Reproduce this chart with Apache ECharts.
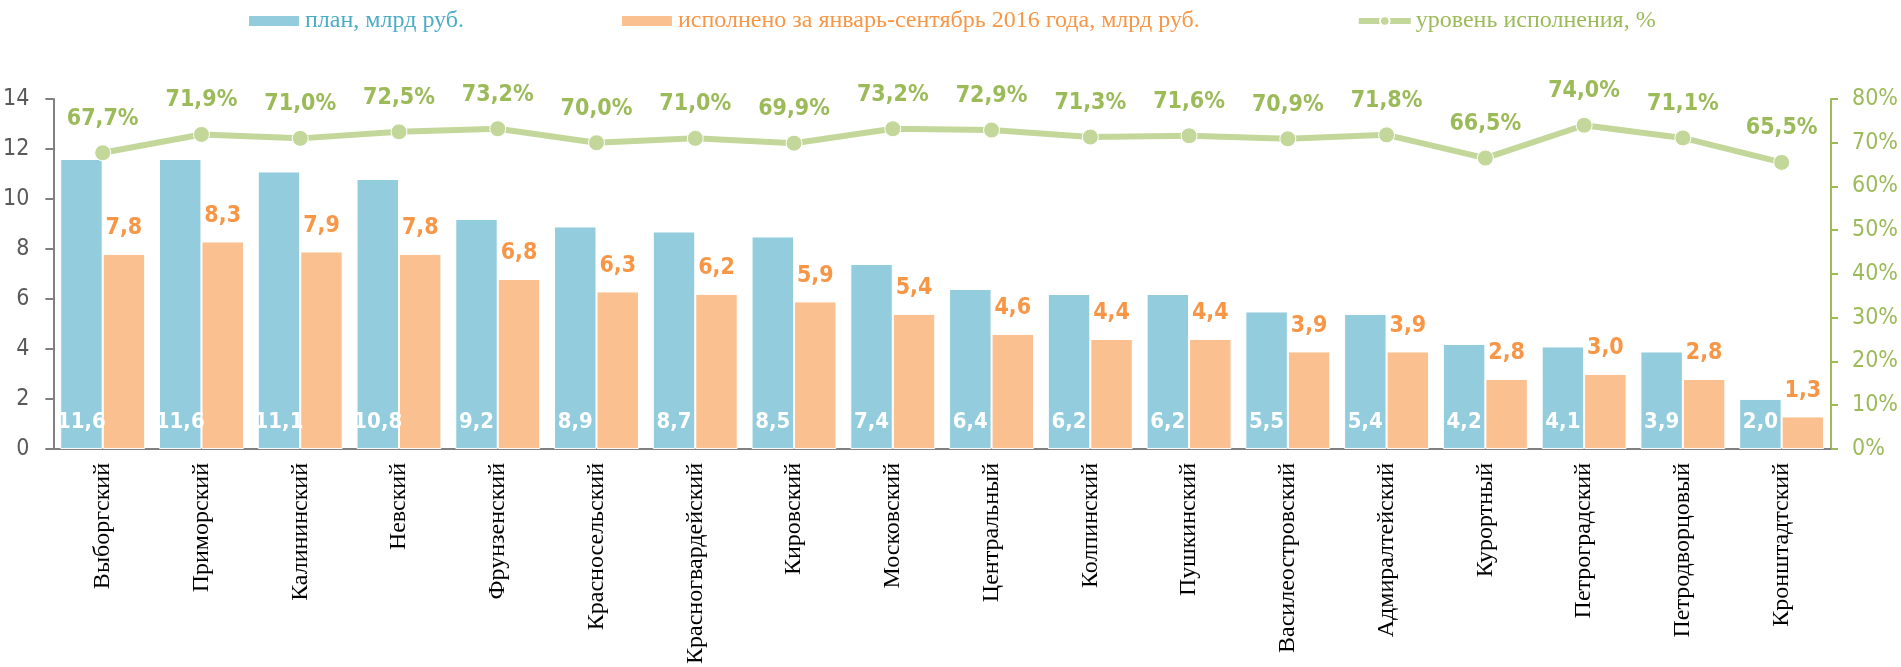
<!DOCTYPE html>
<html>
<head>
<meta charset="utf-8">
<script src="https://cdn.jsdelivr.net/npm/echarts@6/dist/echarts.min.js"></script>
<style>
  html, body { margin: 0; padding: 0; background: #fff; }
  #chart { width: 1901px; height: 667px; }
</style>
</head>
<body>
<div id="chart"></div>
<script>
// районы
var districts = ['Выборгский', 'Приморский', 'Калининский', 'Невский', 'Фрунзенский',
  'Красносельский', 'Красногвардейский', 'Кировский', 'Московский', 'Центральный',
  'Колпинский', 'Пушкинский', 'Василеостровский', 'Адмиралтейский', 'Курортный',
  'Петроградский', 'Петродворцовый', 'Кронштадтский'];
// план, млрд руб.
var plan = [11.6, 11.6, 11.1, 10.8, 9.2, 8.9, 8.7, 8.5, 7.4, 6.4, 6.2, 6.2, 5.5, 5.4, 4.2, 4.1, 3.9, 2.0];
// исполнено за январь-сентябрь 2016 года
var done = [7.8, 8.3, 7.9, 7.8, 6.8, 6.3, 6.2, 5.9, 5.4, 4.6, 4.4, 4.4, 3.9, 3.9, 2.8, 3.0, 2.8, 1.3];
// уровень исполнения, %
var level = [67.7, 71.9, 71.0, 72.5, 73.2, 70.0, 71.0, 69.9, 73.2, 72.9, 71.3, 71.6, 70.9, 71.8, 66.5, 74.0, 71.1, 65.5];

var numFont = '"Liberation Sans Narrow", "DejaVu Sans Condensed", sans-serif';
var comma = function (v) { return v.toFixed(1).replace('.', ','); };

var myChart = echarts.init(document.getElementById('chart'));

var option = {
  animation: false,
  legend: {
    left: 242,
    top: 4,
    itemGap: 156,
    itemWidth: 52,
    itemHeight: 12,
    textStyle: { fontFamily: '"Liberation Serif", serif', fontSize: 24 },
    data: [
      { name: 'план, млрд руб.', icon: 'rect', textStyle: { color: '#4BACC6' } },
      { name: 'исполнено за январь-сентябрь 2016 года, млрд руб.', icon: 'rect', textStyle: { color: '#F79646' } },
      { name: 'уровень исполнения, %', textStyle: { color: '#9BBB59' }, lineStyle: { width: 6 } }
    ]
  },
  grid: { left: 51, right: 59, top: 99, bottom: 215 },
  xAxis: {
    type: 'category',
    data: districts,
    axisLine: { lineStyle: { color: '#808080', width: 2 } },
    axisTick: { length: 6, lineStyle: { color: '#808080', width: 2 } },
    axisLabel: {
      rotate: 90,
      margin: 14,
      interval: 0,
      color: '#000',
      fontFamily: '"Liberation Serif", serif',
      fontSize: 24
    }
  },
  yAxis: [
    {
      type: 'value',
      min: 0, max: 14, interval: 2,
      splitLine: { show: false },
      axisLine: { show: true, lineStyle: { color: '#808080', width: 2 } },
      axisTick: { show: true, length: 8, lineStyle: { color: '#808080', width: 2 } },
      axisLabel: { margin: 24, color: '#595959', fontFamily: numFont, fontSize: 23 }
    },
    {
      type: 'value',
      min: 0, max: 80, interval: 10,
      position: 'right',
      splitLine: { show: false },
      axisLine: { show: true, lineStyle: { color: '#9BBB59', width: 2 } },
      axisTick: { show: true, length: 7, lineStyle: { color: '#9BBB59', width: 2 } },
      axisLabel: { margin: 21, color: '#9BBB59', fontFamily: numFont, fontSize: 23, formatter: '{value}%' }
    }
  ],
  series: [
    {
      name: 'план, млрд руб.',
      type: 'bar',
      data: plan,
      barGap: '0%',
      barCategoryGap: '14%',
      itemStyle: { color: '#93CDDD', borderColor: '#fff', borderWidth: 1 },
      label: {
        show: true,
        position: 'insideBottom',
        distance: 16,
        color: '#fff',
        fontFamily: numFont,
        fontWeight: 'bold',
        fontSize: 22,
        formatter: function (p) { return comma(p.value); }
      }
    },
    {
      name: 'исполнено за январь-сентябрь 2016 года, млрд руб.',
      type: 'bar',
      data: done,
      itemStyle: { color: '#FAC090', borderColor: '#fff', borderWidth: 1 },
      label: {
        show: true,
        position: 'top',
        distance: 14,
        color: '#F79646',
        fontFamily: numFont,
        fontWeight: 'bold',
        fontSize: 23,
        formatter: function (p) { return comma(p.value); }
      }
    },
    {
      name: 'уровень исполнения, %',
      type: 'line',
      yAxisIndex: 1,
      data: level,
      symbol: 'circle',
      symbolSize: 16,
      lineStyle: { color: '#C4D79B', width: 6 },
      itemStyle: { color: '#C4D79B', borderColor: '#fff', borderWidth: 1 },
      label: {
        show: true,
        position: 'top',
        distance: 14,
        color: '#9BBB59',
        fontFamily: numFont,
        fontWeight: 'bold',
        fontSize: 23,
        formatter: function (p) { return comma(p.value) + '%'; }
      }
    }
  ]
};

myChart.setOption(option);
</script>
</body>
</html>
